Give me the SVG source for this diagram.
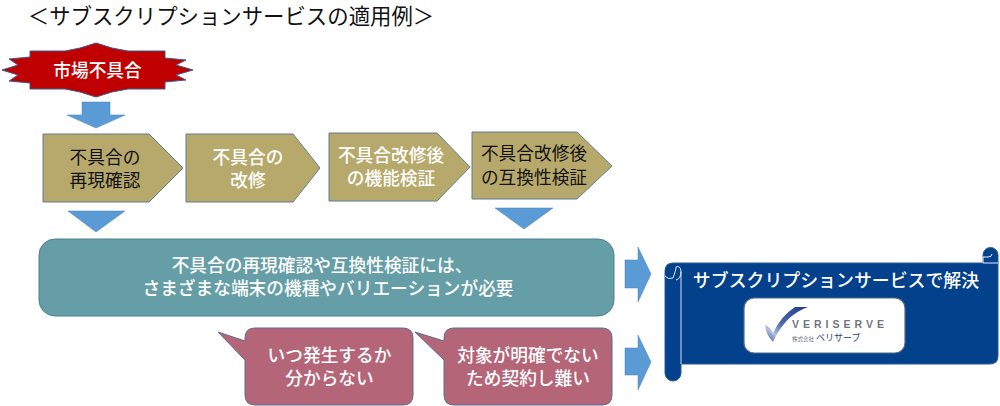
<svg xmlns="http://www.w3.org/2000/svg" width="1000" height="406" viewBox="0 0 1000 406">
<style>
text{font-family:"Noto Sans CJK JP","Noto Sans",sans-serif;text-anchor:middle;font-size:17.7px;font-weight:500}
.w{fill:#fff}.k{fill:#111;font-weight:400}
.arrow{fill:#5b9bd5;stroke:#4a82b4;stroke-width:.5}
.pent{fill:#b7a96b;stroke:#5f7f92;stroke-width:1}
.call{fill:#b46678;stroke:#5f6a90;stroke-width:1}
</style>
<defs>
<linearGradient id="chk" x1="0" y1="1" x2="1" y2="0"><stop offset="0" stop-color="#2a4a98"/><stop offset=".22" stop-color="#b4c1de"/><stop offset=".45" stop-color="#4a68ae"/><stop offset="1" stop-color="#1f3c88"/></linearGradient>
</defs>
<rect width="1000" height="406" fill="#fff"/>
<text id="title" x="231" y="24" style="font-size:21.4px;font-weight:400" fill="#111">＜サブスクリプションサービスの適用例＞</text>
<g id="connectors">
<path class="arrow" d="M82 102H110V115H125L96 128L67 115H82Z"/>
<path class="arrow" d="M68 211H125L96 232Z"/>
<path class="arrow" d="M495 208H553L524 229Z"/>
<path class="arrow" d="M625 260H638V247L651 274L638 302V288H625Z"/>
<path class="arrow" d="M625 348H638V335L651 362L638 390V375H625Z"/>
</g>
<g id="star">
<path d="M2 70L18 65L9 59L30 57L30 51L65 51L80 48L96 43L112 48L128 51L165 51L165 58L186 60L176 65L193 70L176 75L186 80L165 82L165 89L128 89L112 92L96 97L80 92L65 89L30 89L30 83L9 81L18 75Z" fill="#c00000" stroke="#3f5a8a" stroke-width="1"/>
<text class="w" x="97.5" y="77">市場不具合</text>
</g>
<g id="step1"><path class="pent" d="M43 134H149L183 168L149 202H43Z"/>
<text class="k"><tspan x="105" y="163.500">不具合の</tspan><tspan x="105" y="186.500">再現確認</tspan></text></g>
<g id="step2"><path class="pent" d="M186 134H293L320 168L293 202H186Z"/>
<text class="w"><tspan x="248" y="163.500">不具合の</tspan><tspan x="248" y="186.500">改修</tspan></text></g>
<g id="step3"><path class="pent" d="M329 133H437L470 167L437 201H329Z"/>
<text class="w"><tspan x="391" y="162">不具合改修後</tspan><tspan x="391" y="185">の機能検証</tspan></text></g>
<g id="step4"><path class="pent" d="M472 132H577L612 166L577 199H472Z"/>
<text class="k"><tspan x="534" y="160">不具合改修後</tspan><tspan x="534" y="184">の互換性検証</tspan></text></g>
<g id="need"><rect x="39" y="239" width="575" height="77" rx="16" fill="#659ea6" stroke="#4f7f90" stroke-width="1"/>
<text class="w"><tspan x="322" y="272">不具合の再現確認や互換性検証には、</tspan><tspan x="328" y="295">さまざまな端末の機種やバリエーションが必要</tspan></text></g>
<g id="callout1"><path class="call" d="M218 332L245 341V338Q245 328 255 328H403Q413 328 413 338V395Q413 405 403 405H255Q245 405 245 395V360Z"/>
<text class="w"><tspan x="329.500" y="362">いつ発生するか</tspan><tspan x="329.500" y="385">分からない</tspan></text></g>
<g id="callout2"><path class="call" d="M415 332L444 341V338Q444 328 454 328H602Q612 328 612 338V395Q612 405 602 405H454Q444 405 444 395V360Z"/>
<text class="w"><tspan x="528" y="362">対象が明確でない</tspan><tspan x="528" y="385">ため契約し難い</tspan></text></g>
<g id="scroll">
<path d="M673 263H983V255A7.500 7.500 0 0 1 998 255V356Q998 364 990 364H681V373A8 8 0 0 1 665 373V271Q665 263 673 263Z" fill="#03418c" stroke="#2a5a96" stroke-width="1"/>
<path d="M681 272V364" stroke="#d8e2ee" stroke-width="1" fill="none"/>
<path d="M665 276Q668 280 673 278Q676 270 676 267Q680 265 681 271Q681 279 676 280" stroke="#e8eef6" stroke-width="1" fill="none"/>
<path d="M983 263V257H988Q992 257 992 254" stroke="#e8eef6" stroke-width="1" fill="none"/>
<path d="M983 263H998" stroke="#e8eef6" stroke-width="1" fill="none"/>
<text class="w" x="836" y="287" style="font-size:17.9px">サブスクリプションサービスで解決</text>
<rect x="744" y="298" width="161" height="55" rx="10" fill="#fff" stroke="#4f6a85" stroke-width="1.2"/>
<path d="M765 325Q770 327 773 333Q781 316 795 307H808Q785 315 773 342Q766 335 765 325Z" fill="url(#chk)"/>
<text x="792" y="328" style="font-size:10.500px;font-family:'Liberation Sans',sans-serif;text-anchor:start;letter-spacing:4px;font-weight:700" fill="#6f7680">VERISERVE</text>
<text x="792" y="341" style="font-size:5.500px;text-anchor:start;font-weight:400" fill="#6f7680">株式会社</text>
<text x="816" y="341" style="font-size:9px;text-anchor:start;font-weight:400" fill="#2a3f80">ベリサーブ</text>
</g>
</svg>
